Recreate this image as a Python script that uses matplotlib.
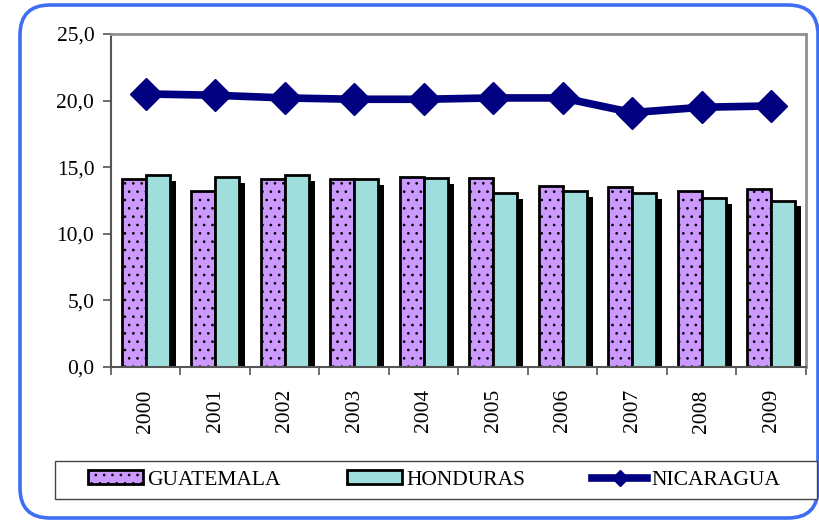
import numpy as np
import matplotlib.pyplot as plt
from matplotlib.patches import FancyBboxPatch, Rectangle
from matplotlib.ticker import FuncFormatter

plt.rcParams['font.family'] = ['Liberation Serif', 'DejaVu Serif']
plt.rcParams['hatch.linewidth'] = 0.7

years = ["2000", "2001", "2002", "2003", "2004", "2005", "2006", "2007", "2008", "2009"]
guatemala = [14.1, 13.2, 14.1, 14.1, 14.3, 14.2, 13.6, 13.5, 13.2, 13.4]
honduras = [14.4, 14.3, 14.4, 14.1, 14.2, 13.1, 13.2, 13.1, 12.7, 12.5]
nicaragua = [20.5, 20.4, 20.2, 20.1, 20.1, 20.2, 20.2, 19.1, 19.5, 19.6]

x = np.arange(len(years))
w = 0.345
fs = 15.5

fig = plt.figure(figsize=(8.2, 5.21), dpi=100)
ax = fig.add_axes([111/820, 1-367/521, (806-111)/820, (367-34)/521])

# blue rounded frame
frame = FancyBboxPatch((0.20, 0.03), 7.98, 5.13, boxstyle="round,pad=0,rounding_size=0.3",
                       transform=fig.dpi_scale_trans, facecolor="none",
                       edgecolor="#3f6ef5", linewidth=2.6, zorder=-1)
fig.patches.append(frame)

# shadow behind the second bar
ax.bar(x + w/2 + 0.086, np.array(honduras) - 0.45, w, color="black", zorder=1)
b1 = ax.bar(x - w/2, guatemala, w, color="#cc99ff", edgecolor="black", hatch="..",
            linewidth=2, label="GUATEMALA", zorder=2)
b2 = ax.bar(x + w/2, honduras, w, color="#a0dede", edgecolor="black",
            linewidth=2, label="HONDURAS", zorder=2)
l1, = ax.plot(x, nicaragua, color="#000080", linewidth=5.5, marker="D", markersize=16,
              label="NICARAGUA", zorder=3)

ax.set_xlim(-0.5, 9.5)
ax.set_ylim(0, 25)
ax.set_yticks(np.arange(0, 26, 5))
ax.yaxis.set_major_formatter(FuncFormatter(lambda v, p: f"{v:.1f}".replace(".", ",")))
ax.set_xticks(np.arange(-0.5, 10, 1))
ax.set_xticklabels([])
ax.set_xticks(x, minor=True)
ax.set_xticklabels(years, minor=True, rotation=90)
ax.tick_params(axis="x", which="minor", length=0, pad=16, labelsize=fs)
ax.tick_params(axis="x", which="major", length=6, width=1.2, color="#555555")
ax.tick_params(axis="y", length=6, width=1.2, color="#555555", labelsize=fs, pad=6)

for s in ["left", "bottom"]:
    ax.spines[s].set_color("#555555")
    ax.spines[s].set_linewidth(1.5)
for s in ["top", "right"]:
    ax.spines[s].set_color("#909090")
    ax.spines[s].set_linewidth(2)

# legend box
fig.patches.append(Rectangle((55/820, 1-499/521), (817-55)/820, (499-461)/521,
                             transform=fig.transFigure, facecolor="white",
                             edgecolor="#444444", linewidth=1))
leg = fig.legend(handles=[b1, b2, l1], loc="center left", ncol=3, frameon=False,
                 bbox_to_anchor=(88/820, 1-480/521), borderaxespad=0, borderpad=0,
                 fontsize=fs, handlelength=2.55, handleheight=0.65,
                 handletextpad=0.2, columnspacing=3.1, markerscale=0.5)

fig.savefig("out.png", dpi=100)
